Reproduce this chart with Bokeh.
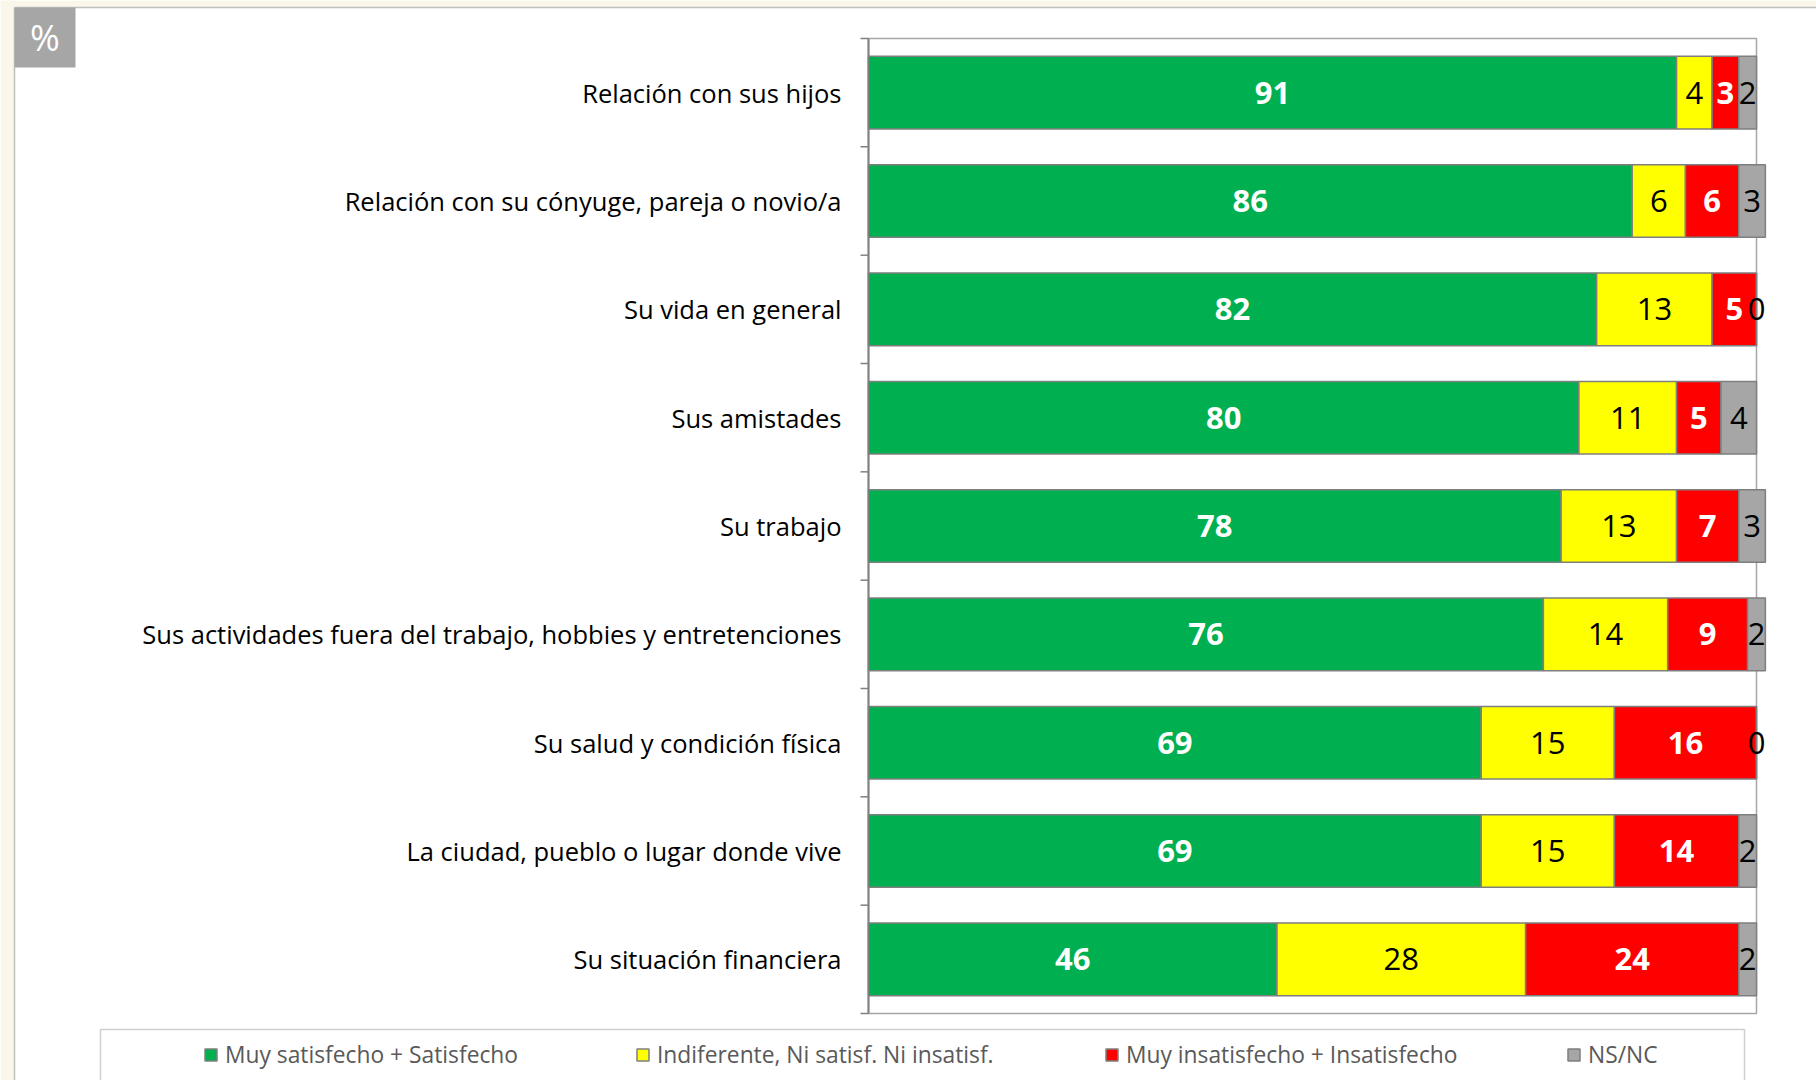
from bokeh.plotting import figure
from bokeh.models import ColumnDataSource, Range1d, Legend, LegendItem
from bokeh.core.properties import value
from bokeh.embed import file_html
from bokeh.resources import INLINE

# ---- data ----
categories = [
    "Relación con sus hijos",
    "Relación con su cónyuge, pareja o novio/a",
    "Su vida en general",
    "Sus amistades",
    "Su trabajo",
    "Sus actividades fuera del trabajo, hobbies y entretenciones",
    "Su salud y condición física",
    "La ciudad, pueblo o lugar donde vive",
    "Su situación financiera",
]
satisfied = [91, 86, 82, 80, 78, 76, 69, 69, 46]
indifferent = [4, 6, 13, 11, 13, 14, 15, 15, 28]
dissatisfied = [3, 6, 5, 5, 7, 9, 16, 14, 24]
nsnc = [2, 3, 0, 4, 3, 2, 0, 2, 2]
series_names = ["Muy satisfecho + Satisfecho", "Indiferente, Ni satisf. Ni insatisf.",
                "Muy insatisfecho + Insatisfecho", "NS/NC"]
series_colors = ["#00B050", "#FFFF00", "#FF0000", "#A6A6A6"]
unit_label = "%"

# ---- layout (pixels) ----
FONT = "Open Sans"
W, H = 1816, 1080
PL, PR, PT, PB = 868, 1756, 38, 1013      # plot area edges
XMAX = 100
N = len(categories)
PX = (PR - PL) / XMAX
PY = (PB - PT) / N


def dx(px):
    return (px - PL) / PX


def dy(py):
    return (PB - py) / PY


ypos = [N - 0.5 - i for i in range(N)]   # first category at top

p = figure(width=W, height=H, output_backend="svg", toolbar_location=None,
           x_range=Range1d(dx(0), dx(W)), y_range=Range1d(dy(H), dy(0)),
           x_axis_location=None, y_axis_location=None,
           min_border=0, min_border_left=0, min_border_right=0, min_border_top=0, min_border_bottom=0)
p.grid.visible = False
p.outline_line_color = None
p.background_fill_color = "white"
p.border_fill_color = "white"

# page decoration: cream strips and panel border
p.quad(left=[dx(0), dx(0)], right=[dx(14), dx(W)], bottom=[dy(H), dy(7)], top=[dy(0), dy(0)],
       fill_color="#FAF7EA", line_color=None)
p.segment(x0=[dx(14), dx(14)], y0=[dy(H), dy(7)], x1=[dx(14), dx(W)], y1=[dy(7), dy(7)],
          line_color="#BFBFBF", line_width=1.5)

# "%" box
p.quad(left=[dx(14)], right=[dx(75)], bottom=[dy(67)], top=[dy(7)], fill_color="#A6A6A6", line_color=None)
p.text(x=[dx(44.5)], y=[dy(37)], text=[unit_label], text_align="center", text_baseline="middle",
       text_font=value(FONT), text_font_size="36px", text_color="white")

# plot area outline
p.quad(left=[0], right=[XMAX], bottom=[0], top=[N], fill_color=None, line_color="#A6A6A6", line_width=1.5)
# category axis line and boundary ticks
p.segment(x0=[0], y0=[0], x1=[0], y1=[N], line_color="#808080", line_width=2)
bounds = list(range(N + 1))
p.segment(x0=[-8 / PX] * len(bounds), y0=bounds, x1=[0] * len(bounds), y1=bounds,
          line_color="#808080", line_width=1.5)
# category labels
p.text(x=[-27 / PX] * N, y=ypos, text=categories, text_align="right", text_baseline="middle",
       text_font=value(FONT), text_font_size="25.5px", text_color="#000000")

src = ColumnDataSource(dict(y=ypos, cat=categories, sat=satisfied, ind=indifferent, dis=dissatisfied, ns=nsnc))
renderers = p.hbar_stack(["sat", "ind", "dis", "ns"], y="y", height=0.67, source=src,
                         fill_color=series_colors, line_color="#7F7F7F", line_width=1.5)

# value labels at segment centres
wx, wy, wt, bx, by, bt = [], [], [], [], [], []
for i, yy in enumerate(ypos):
    vals = [satisfied[i], indifferent[i], dissatisfied[i], nsnc[i]]
    start = 0
    for k, v in enumerate(vals):
        mid = start + v / 2
        if k in (0, 2):
            wx.append(mid); wy.append(yy); wt.append(str(v))
        else:
            bx.append(mid); by.append(yy); bt.append(str(v))
        start += v
p.text(x=wx, y=wy, text=wt, text_align="center", text_baseline="middle",
       text_font=value(FONT), text_font_style="bold", text_font_size="31px", text_color="white")
p.text(x=bx, y=by, text=bt, text_align="center", text_baseline="middle",
       text_font=value(FONT), text_font_size="31px", text_color="black")

# legend box
p.quad(left=[dx(100)], right=[dx(1744)], bottom=[dy(H + 20)], top=[dy(1029)],
       fill_color="white", line_color="#D0D0D0", line_width=1.5)
legend_px = [203, 635, 1104, 1566]
for name, r, lx in zip(series_names, renderers, legend_px):
    lg = Legend(items=[LegendItem(label=name, renderers=[r])], location=(lx, H - 1070),
                orientation="horizontal", padding=0, margin=0, spacing=0,
                glyph_width=15, glyph_height=15, label_standoff=7, label_height=15,
                label_text_font=FONT, label_text_font_size="22.8px", label_text_color="#595959",
                border_line_alpha=0, background_fill_alpha=0)
    p.add_layout(lg, "center")

open("out.html", "w").write(file_html(p, INLINE))
